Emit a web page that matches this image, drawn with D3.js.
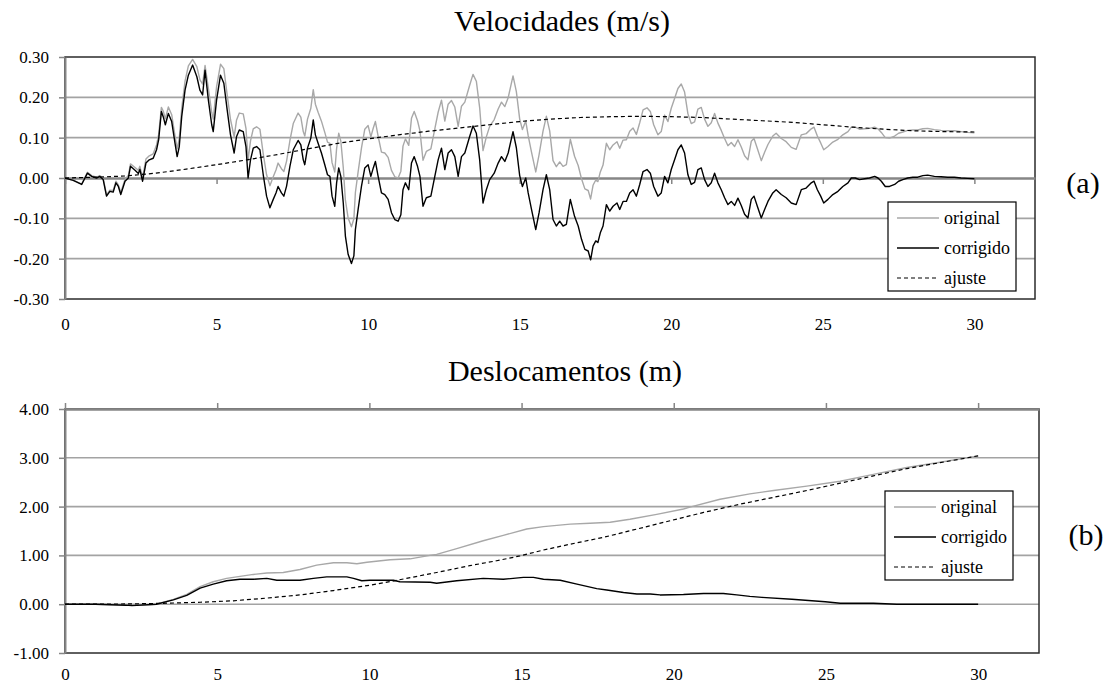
<!DOCTYPE html>
<html>
<head>
<meta charset="utf-8">
<script src="https://cdn.jsdelivr.net/npm/d3@7"></script>
<style>
  body { margin: 0; background: #ffffff; }
  svg { display: block; }
</style>
</head>
<body>
<svg id="fig" width="1110" height="687"></svg>
<script>
// ---------- Velocities (m/s) ----------
const velTime = [0,0.27,0.55,0.74,0.88,1.04,1.15,1.26,1.37,1.48,
  1.59,1.68,1.76,1.84,1.98,2.09,2.16,2.31,2.42,2.47,
  2.56,2.67,2.78,2.91,3.02,3.09,3.18,3.24,3.31,3.41,
  3.52,3.63,3.70,3.77,3.85,3.96,4.07,4.21,4.35,4.45,
  4.54,4.62,4.73,4.84,4.89,5.00,5.13,5.24,5.35,5.46,
  5.58,5.66,5.75,5.88,5.97,6.04,6.12,6.21,6.32,6.43,
  6.54,6.65,6.76,6.87,6.96,7.03,7.14,7.22,7.31,7.42,
  7.53,7.69,7.78,7.86,7.91,8.0,8.11,8.19,8.26,8.35,
  8.46,8.57,8.66,8.74,8.81,8.90,8.96,9.03,9.10,9.18,
  9.25,9.34,9.45,9.53,9.58,9.67,9.78,9.89,10.0,10.09,
  10.17,10.24,10.33,10.44,10.55,10.66,10.77,10.88,10.99,11.08,
  11.15,11.23,11.34,11.43,11.52,11.63,11.71,11.81,11.92,12.07,
  12.2,12.31,12.42,12.53,12.64,12.75,12.86,12.97,13.08,13.19,
  13.35,13.46,13.57,13.68,13.79,13.9,14.01,14.16,14.29,14.4,
  14.51,14.62,14.78,14.89,15.0,15.09,15.2,15.28,15.39,15.53,
  15.64,15.77,15.88,15.99,16.1,16.21,16.32,16.43,16.54,16.67,
  16.81,16.93,17.04,17.15,17.26,17.34,17.42,17.51,17.58,17.66,
  17.75,17.86,17.97,18.08,18.21,18.3,18.41,18.52,18.63,18.74,
  18.85,18.96,19.07,19.2,19.31,19.42,19.56,19.67,19.78,19.89,
  20.0,20.11,20.22,20.33,20.44,20.55,20.66,20.77,20.88,20.99,
  21.1,21.21,21.32,21.43,21.54,21.65,21.76,21.87,21.98,22.09,
  22.2,22.31,22.42,22.53,22.64,22.73,22.84,22.97,23.08,23.19,
  23.35,23.46,23.63,23.79,23.96,24.12,24.29,24.45,24.62,24.71,
  24.82,24.93,25.03,25.17,25.33,25.5,25.66,25.83,25.94,26.07,
  26.21,26.38,26.54,26.71,26.82,26.93,27.06,27.2,27.37,27.5,
  27.64,27.8,27.97,28.13,28.3,28.46,28.68,28.9,29.12,29.34,
  29.56,29.78,30.0];

const velOriginal = [0,-0.005,-0.015,0.014,0.006,0.002,0.006,-0.001,-0.042,-0.030,
  -0.031,-0.008,-0.017,-0.036,-0.003,0.006,0.035,0.026,0.019,0.029,
  0.001,0.047,0.055,0.060,0.082,0.108,0.175,0.166,0.147,0.176,
  0.157,0.104,0.072,0.098,0.172,0.240,0.278,0.294,0.276,0.244,
  0.233,0.279,0.222,0.163,0.146,0.226,0.282,0.271,0.206,0.145,
  0.102,0.144,0.161,0.159,0.123,0.045,0.092,0.122,0.127,0.121,
  0.060,0.008,-0.019,0.003,0.020,0.037,0.023,0.016,0.042,0.093,
  0.135,0.161,0.151,0.115,0.104,0.146,0.173,0.219,0.183,0.163,
  0.141,0.113,0.089,0.086,0.038,0.015,0.073,0.111,0.091,0.026,
  -0.055,-0.099,-0.121,-0.101,-0.036,0.015,0.074,0.121,0.130,0.102,
  0.124,0.140,0.104,0.064,0.062,0.051,0.019,0.003,0,0.017,
  0.079,0.097,0.081,0.148,0.165,0.142,0.117,0.044,0.066,0.072,
  0.122,0.163,0.193,0.141,0.183,0.192,0.176,0.128,0.178,0.188,
  0.230,0.257,0.240,0.174,0.068,0.102,0.128,0.145,0.171,0.188,
  0.177,0.199,0.253,0.214,0.146,0.120,0.141,0.105,0.064,0.015,
  0.058,0.116,0.153,0.117,0.043,0.028,0.040,0.029,0.033,0.096,
  0.054,0.031,-0.002,-0.027,-0.031,-0.052,-0.018,-0.005,-0.009,0.015,
  0.032,0.086,0.070,0.082,0.090,0.074,0.094,0.095,0.116,0.124,
  0.108,0.137,0.169,0.174,0.165,0.132,0.107,0.115,0.156,0.140,
  0.173,0.197,0.222,0.233,0.213,0.159,0.135,0.139,0.171,0.175,
  0.146,0.128,0.137,0.160,0.136,0.118,0.098,0.080,0.088,0.078,
  0.095,0.077,0.055,0.045,0.091,0.098,0.073,0.043,0.064,0.083,
  0.104,0.111,0.098,0.090,0.076,0.071,0.107,0.110,0.122,0.126,
  0.104,0.087,0.070,0.078,0.089,0.096,0.107,0.115,0.126,0.126,
  0.121,0.122,0.123,0.126,0.122,0.113,0.100,0.099,0.104,0.111,
  0.114,0.118,0.119,0.119,0.122,0.123,0.120,0.118,0.117,0.117,
  0.115,0.113,0.112];

const velCorrected = [0,-0.006,-0.016,0.012,0.004,0,0.004,-0.004,-0.045,-0.033,
  -0.035,-0.012,-0.021,-0.041,-0.008,0,0.029,0.019,0.011,0.021,
  -0.008,0.037,0.045,0.049,0.070,0.095,0.165,0.152,0.132,0.160,
  0.140,0.086,0.053,0.078,0.152,0.218,0.255,0.280,0.251,0.218,
  0.206,0.267,0.193,0.132,0.115,0.193,0.255,0.235,0.169,0.107,
  0.062,0.103,0.119,0.115,0.078,0,0.045,0.074,0.078,0.070,
  0.008,-0.045,-0.074,-0.053,-0.037,-0.021,-0.037,-0.045,-0.020,0.029,
  0.070,0.093,0.082,0.045,0.033,0.074,0.099,0.144,0.107,0.086,
  0.062,0.033,0.008,0.004,-0.045,-0.070,-0.012,0.025,0.004,-0.062,
  -0.144,-0.189,-0.212,-0.193,-0.128,-0.078,-0.021,0.025,0.033,0.004,
  0.025,0.041,0.004,-0.037,-0.041,-0.053,-0.086,-0.103,-0.107,-0.091,
  -0.029,-0.012,-0.029,0.037,0.053,0.029,0.004,-0.070,-0.049,-0.045,
  0.004,0.045,0.074,0.021,0.062,0.070,0.053,0.004,0.053,0.062,
  0.103,0.129,0.111,0.045,-0.062,-0.029,-0.004,0.012,0.037,0.053,
  0.041,0.062,0.115,0.075,0.006,-0.021,0,-0.037,-0.078,-0.128,
  -0.086,-0.029,0.008,-0.029,-0.103,-0.119,-0.107,-0.119,-0.115,-0.053,
  -0.095,-0.119,-0.152,-0.177,-0.181,-0.203,-0.169,-0.156,-0.160,-0.136,
  -0.119,-0.066,-0.082,-0.070,-0.062,-0.078,-0.058,-0.058,-0.037,-0.029,
  -0.045,-0.016,0.016,0.021,0.012,-0.021,-0.045,-0.037,0.004,-0.012,
  0.021,0.045,0.070,0.082,0.062,0.008,-0.016,-0.011,0.021,0.025,
  -0.004,-0.021,-0.012,0.012,-0.012,-0.029,-0.049,-0.066,-0.058,-0.068,
  -0.050,-0.068,-0.090,-0.099,-0.053,-0.045,-0.070,-0.099,-0.078,-0.058,
  -0.037,-0.029,-0.041,-0.049,-0.062,-0.066,-0.029,-0.025,-0.012,-0.008,
  -0.029,-0.045,-0.062,-0.053,-0.041,-0.033,-0.021,-0.012,0,0,
  -0.004,-0.002,0,0.004,0,-0.008,-0.021,-0.021,-0.016,-0.008,
  -0.004,0,0.002,0.002,0.006,0.007,0.004,0.003,0.002,0.002,
  0,-0.001,-0.002];

// fitted baseline of the velocity record, one value per second
const fitVelTime = [0,1,2,3,4,5,6,7,8,9,10,11,12,13,14,15,16,17,18,19,20,21,22,23,24,25,26,27,28,29,30];
const fitVel = [0,0.002,0.005,0.012,0.022,0.033,0.045,0.058,0.072,0.086,0.097,0.107,0.116,0.124,0.132,0.140,
  0.146,0.150,0.152,0.153,0.152,0.150,0.146,0.142,0.138,0.132,0.126,0.121,0.117,0.115,0.114];

// ---------- Displacements (m) ----------
const dispOrigTime = [0,1,2,2.4,3,3.56,4,4.44,4.87,5.31,5.75,6.19,6.63,7.17,7.72,8.27,8.82,9.26,9.59,9.92,
  10.68,11.34,11.99,12.21,12.87,13.74,14.4,15.17,15.72,16.6,17.25,17.91,18.56,19.44,20.32,20.53,21.52,22.5,
  23.28,24.37,25.47,26.56,27.66,28.75,30];
const dispOrig = [0,0,-0.01,-0.02,0,0.1,0.2,0.36,0.46,0.53,0.57,0.61,0.64,0.65,0.71,0.8,0.85,0.85,0.83,0.86,
  0.91,0.93,1.0,1.02,1.14,1.3,1.41,1.54,1.59,1.64,1.66,1.68,1.74,1.84,1.95,1.99,2.15,2.26,
  2.33,2.42,2.52,2.66,2.8,2.91,3.04];

const dispCorrTime = [0,1,2,2.2,3,3.56,4,4.44,4.87,5.31,5.75,6.19,6.63,6.96,7.72,8.16,8.6,9.26,9.48,9.75,
  10.02,10.79,11.0,12.0,12.21,12.87,13.74,14.4,15.06,15.39,15.72,16.27,16.82,17.47,17.8,18.35,18.79,19.23,
  19.55,20.32,20.98,21.63,22.07,22.5,22.9,23.88,24.98,25.47,26.56,27.33,30];
const dispCorr = [0,0,-0.02,-0.03,0,0.09,0.18,0.33,0.41,0.48,0.51,0.51,0.53,0.49,0.49,0.53,0.56,0.56,0.53,0.48,
  0.49,0.49,0.46,0.45,0.43,0.48,0.53,0.51,0.55,0.55,0.51,0.49,0.41,0.32,0.29,0.24,0.21,0.21,
  0.19,0.2,0.22,0.22,0.19,0.16,0.14,0.1,0.05,0.02,0.02,0,0];

const dispFitTime = [0,2,3,4.44,5.53,6.63,7.72,8.82,10.02,10.9,12.21,13.3,14.18,14.95,15.72,16.6,17.69,18.79,
  19.88,20.98,22.18,23.28,24.37,25.47,26.56,27.66,28.75,30];
const dispFit = [0,0.005,0.015,0.04,0.07,0.125,0.19,0.28,0.39,0.49,0.65,0.79,0.89,0.99,1.11,1.23,1.37,1.54,
  1.71,1.88,2.05,2.19,2.33,2.48,2.63,2.78,2.9,3.04];

// ---------- axes and labels ----------
const timeTicks = [0, 5, 10, 15, 20, 25, 30];
const timeTickLabels = ["0", "5", "10", "15", "20", "25", "30"];
const velTicks = [-0.3, -0.2, -0.1, 0, 0.1, 0.2, 0.3];
const velTickLabels = ["-0.30", "-0.20", "-0.10", "0.00", "0.10", "0.20", "0.30"];
const dispTicks = [-1, 0, 1, 2, 3, 4];
const dispTickLabels = ["-1.00", "0.00", "1.00", "2.00", "3.00", "4.00"];
const seriesNames = ["original", "corrigido", "ajuste"];

const SERIF = "'Liberation Serif', 'Times New Roman', serif";
const AXIS_GREY = "#868686";
const GRID_GREY = "#a3a3a3";
const FRAME = "#2b2b2b";
const ORIG_GREY = "#a8a8a8";

const svg = d3.select("#fig");
svg.append("rect").attr("width", 1110).attr("height", 687).attr("fill", "#fff");

const pts = (ts, vs) => ts.map((t, i) => [t, vs[i]]);

function drawPanel(o) {
  const x = d3.scaleLinear().domain([0, 32]).range([o.left, o.right]);
  const y = d3.scaleLinear().domain(o.yDomain).range([o.bottom, o.top]);
  const g = svg.append("g");

  // horizontal gridlines
  g.append("g").selectAll("line")
    .data(o.yTicks.filter(v => v !== o.yDomain[0] && v !== o.yDomain[1] && v !== o.axisAt))
    .join("line")
    .attr("x1", o.left).attr("x2", o.right)
    .attr("y1", d => y(d)).attr("y2", d => y(d))
    .attr("stroke", GRID_GREY).attr("stroke-width", 1.6);

  // plot frame
  g.append("rect")
    .attr("x", o.left).attr("y", o.top)
    .attr("width", o.right - o.left).attr("height", o.bottom - o.top)
    .attr("fill", "none").attr("stroke", FRAME).attr("stroke-width", 1.5);

  // value axis
  const yAxis = d3.axisLeft(y).tickValues(o.yTicks)
    .tickFormat((d, i) => o.yLabels[i])
    .tickSizeInner(6).tickSizeOuter(0).tickPadding(10);
  const yg = g.append("g").attr("transform", `translate(${o.left},0)`).call(yAxis);
  yg.select(".domain").attr("stroke", AXIS_GREY).attr("stroke-width", 2);
  yg.selectAll(".tick line").attr("stroke", AXIS_GREY).attr("stroke-width", 1.5);
  yg.selectAll(".tick text").attr("font-family", SERIF).attr("font-size", 17).attr("fill", "#000");

  // time axis line with its tick marks
  const tAxis = (o.ticksUp ? d3.axisTop(x) : d3.axisBottom(x))
    .tickValues(timeTicks).tickFormat("").tickSizeInner(6).tickSizeOuter(0);
  const tg = g.append("g").attr("transform", `translate(0,${y(o.axisAt)})`).call(tAxis);
  tg.select(".domain").attr("stroke", AXIS_GREY).attr("stroke-width", 2.5);
  tg.selectAll(".tick line").attr("stroke", AXIS_GREY).attr("stroke-width", 1.5);

  // time labels under the plot
  const lAxis = d3.axisBottom(x).tickValues(timeTicks)
    .tickFormat((d, i) => timeTickLabels[i]).tickSize(0).tickPadding(o.labelPad);
  const lg = g.append("g").attr("transform", `translate(0,${o.bottom})`).call(lAxis);
  lg.select(".domain").remove();
  lg.selectAll(".tick text").attr("font-family", SERIF).attr("font-size", 17).attr("fill", "#000");

  // series
  const line = d3.line().x(d => x(d[0])).y(d => y(d[1]));
  const s = g.append("g").attr("fill", "none").attr("stroke-linejoin", "round");
  s.append("path").attr("d", line(o.orig)).attr("stroke", ORIG_GREY).attr("stroke-width", 1.4);
  s.append("path").attr("d", line(o.corr)).attr("stroke", "#000").attr("stroke-width", 1.4);
  s.append("path").attr("d", line(o.fit)).attr("stroke", "#000").attr("stroke-width", 1.2)
    .attr("stroke-dasharray", "4,3");

  // title
  svg.append("text").attr("x", o.titleX).attr("y", o.titleY)
    .attr("text-anchor", "middle").attr("font-family", SERIF).attr("font-size", 30)
    .attr("fill", "#000").text(o.title);

  // panel tag
  svg.append("text").attr("x", o.tagX).attr("y", o.tagY)
    .attr("text-anchor", "middle").attr("font-family", SERIF).attr("font-size", 30)
    .attr("fill", "#000").text(o.tag);

  // legend
  const lgd = svg.append("g").attr("transform", `translate(${o.legendX},${o.legendY})`);
  lgd.append("rect").attr("width", 128).attr("height", 89)
    .attr("fill", "#fff").attr("stroke", "#000").attr("stroke-width", 1.2);
  const styles = [
    { stroke: ORIG_GREY, dash: null, w: 1.4 },
    { stroke: "#000", dash: null, w: 1.4 },
    { stroke: "#000", dash: "4,3", w: 1.2 }
  ];
  seriesNames.forEach((name, i) => {
    const yy = 16 + i * 30;
    lgd.append("line").attr("x1", 9).attr("x2", 51).attr("y1", yy).attr("y2", yy)
      .attr("stroke", styles[i].stroke).attr("stroke-width", styles[i].w)
      .attr("stroke-dasharray", styles[i].dash);
    lgd.append("text").attr("x", 56).attr("y", yy).attr("dy", "0.33em")
      .attr("font-family", SERIF).attr("font-size", 18).attr("fill", "#000").text(name);
  });
}

drawPanel({
  left: 65, right: 1035, top: 57, bottom: 299,
  yDomain: [-0.3, 0.3], yTicks: velTicks, yLabels: velTickLabels,
  axisAt: 0, ticksUp: false, labelPad: 19,
  orig: pts(velTime, velOriginal), corr: pts(velTime, velCorrected), fit: pts(fitVelTime, fitVel),
  title: "Velocidades (m/s)", titleX: 562, titleY: 31,
  tag: "(a)", tagX: 1083, tagY: 193,
  legendX: 888, legendY: 202
});

drawPanel({
  left: 65, right: 1039, top: 409, bottom: 653,
  yDomain: [-1, 4], yTicks: dispTicks, yLabels: dispTickLabels,
  axisAt: 4, ticksUp: true, labelPad: 15,
  orig: pts(dispOrigTime, dispOrig), corr: pts(dispCorrTime, dispCorr), fit: pts(dispFitTime, dispFit),
  title: "Deslocamentos (m)", titleX: 565, titleY: 381,
  tag: "(b)", tagX: 1086, tagY: 545,
  legendX: 885, legendY: 491
});
</script>
</body>
</html>
